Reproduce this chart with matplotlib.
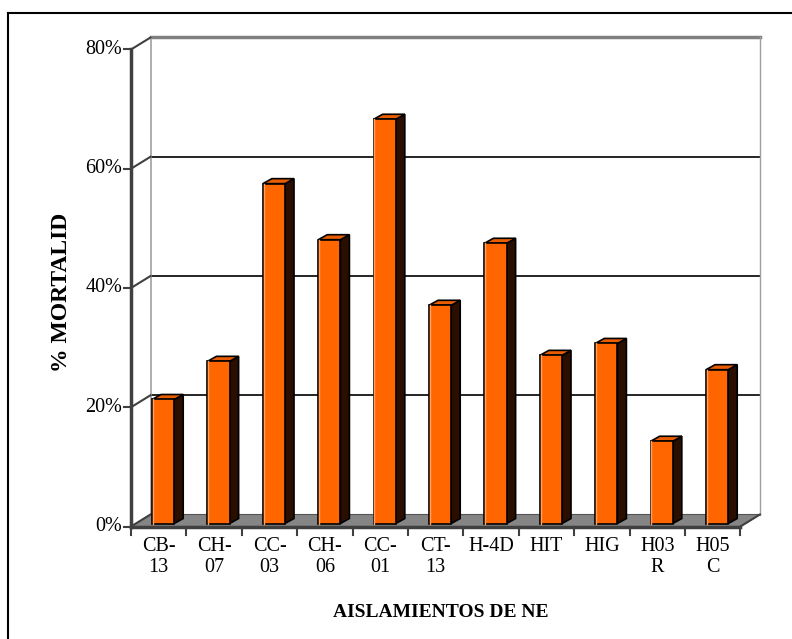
import matplotlib
matplotlib.use('Agg')
import matplotlib.pyplot as plt
from matplotlib.patches import Polygon, Rectangle
from matplotlib.lines import Line2D

plt.rcParams['font.family'] = ['Liberation Serif', 'DejaVu Serif']

# mortality per isolate (%)
aislamientos = ['CB-\n13', 'CH-\n07', 'CC-\n03', 'CH-\n06', 'CC-\n01', 'CT-\n13',
                'H-4D', 'HIT', 'HIG', 'H03\nR', 'H05\nC']
mortalidad = [20.8, 27.2, 57.0, 47.6, 67.8, 36.6, 47.0, 28.2, 30.2, 13.8, 25.8]
y_ticks = [0, 20, 40, 60, 80]
y_labels = ['0%', '20%', '40%', '60%', '80%']

W, H = 792, 639
PX_CAT = 55.4       # pixels per category
PX_PCT = 5.9625     # pixels per percent
X0, Y0 = 131, 112.5  # origin of the front plane, pixels from bottom-left

# depth of the box (back wall) and placement of the columns inside it
DX, DY = 19.5 / PX_CAT, 12 / PX_PCT
BX, BY = 0.08, 0.5
BW = 0.40
BDX, BDY = 9 / PX_CAT, 5 / PX_PCT

fig = plt.figure(figsize=(W / 100, H / 100), dpi=100)
ax = fig.add_axes([0, 0, 1, 1])
ax.set_xlim(-X0 / PX_CAT, (W - X0) / PX_CAT)
ax.set_ylim(-Y0 / PX_PCT, (H - Y0) / PX_PCT)
ax.axis('off')

n = len(mortalidad)
top = y_ticks[-1]

# floor
ax.add_patch(Polygon([(0, 0), (n, 0), (n + DX, DY), (DX, DY)],
                     closed=True, fc='#858585', ec='#555555', lw=0.8, zorder=1))

# back wall: gridlines and edges
for v in y_ticks[1:-1]:
    ax.plot([DX, n + DX], [v + DY, v + DY], color='black', lw=1.2, zorder=1)
ax.plot([DX, n + DX], [top + DY, top + DY], color='#808080', lw=2.5, zorder=1)
ax.plot([DX, DX], [DY, top + DY], color='#a0a0a0', lw=1.2, zorder=1)
ax.plot([n + DX, n + DX], [DY, top + DY], color='#a0a0a0', lw=1.0, zorder=1)

# side wall lines from the axis ticks to the back wall
for v in y_ticks:
    ax.plot([0, DX], [v, v + DY], color='#404040', lw=1.5, zorder=2)
ax.plot([n, n + DX], [0, DY], color='#404040', lw=1.5, zorder=2)

# columns
for i, v in enumerate(mortalidad):
    xl = i + 0.5 - BW / 2 + BX
    xr = xl + BW
    side = [(xr, BY), (xr + BDX, BY + BDY), (xr + BDX, v + BY + BDY), (xr, v + BY)]
    lid = [(xl, v + BY), (xr, v + BY), (xr + BDX, v + BY + BDY), (xl + BDX, v + BY + BDY)]
    ax.add_patch(Polygon(side, closed=True, fc='#2a0e00', ec='black', lw=1.2, zorder=3))
    ax.add_patch(Polygon(lid, closed=True, fc='#e85d00', ec='black', lw=1.2, zorder=3))
    ax.add_patch(Rectangle((xl, BY), BW, v, fc='#ff6600', ec='black', lw=1.2, zorder=4))
    # light edge on the left of the front face
    ax.plot([xl + 0.012, xl + 0.012], [BY, v + BY], color='#ffa060', lw=1.0, zorder=5)

# front axes
ax.plot([0, 0], [0, top], color='#404040', lw=2.5, zorder=5)
ax.plot([0, n], [0, 0], color='#404040', lw=2.5, zorder=5)
tick_y = 7 / PX_CAT
for v, lab in zip(y_ticks, y_labels):
    ax.plot([-tick_y, 0], [v, v], color='#404040', lw=1.5, zorder=5)
    ax.text(-tick_y - 0.03, v, lab, ha='right', va='center', fontsize=14.5)
tick_x = 8 / PX_PCT
for i in range(n + 1):
    ax.plot([i, i], [0, -tick_x], color='#404040', lw=1.5, zorder=5)
for i, lab in enumerate(aislamientos):
    ax.text(i + 0.5, -1.8, lab, ha='center', va='top', fontsize=14.5, linespacing=1.15)

ax.text(-70 / PX_CAT, 39.3, '% MORTALID', rotation=90, ha='center', va='center',
        fontsize=17, fontweight='bold')
ax.text(5.6, -14.5, 'AISLAMIENTOS DE NE', ha='center', va='center',
        fontsize=14, fontweight='bold')

# frame lines along the top and left
fig.lines.append(Line2D([8 / W, 1], [1 - 13 / H, 1 - 13 / H], transform=fig.transFigure,
                        color='black', lw=1.5))
fig.lines.append(Line2D([8 / W, 8 / W], [0, 1 - 13 / H], transform=fig.transFigure,
                        color='black', lw=1.5))

fig.savefig('out.png', dpi=100)
